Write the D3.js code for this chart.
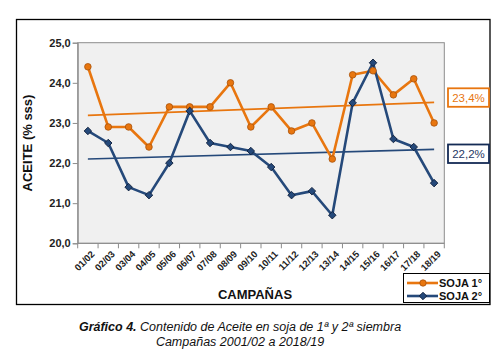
<!DOCTYPE html>
<html><head><meta charset="utf-8">
<script src="https://cdn.jsdelivr.net/npm/d3@7"></script>
<style>body{margin:0;background:#fff}svg{display:block;font-family:"Liberation Sans",Arial,sans-serif}</style>
</head><body><svg id="c" width="500" height="359"></svg>
<script>
const campaigns = ["01/02","02/03","03/04","04/05","05/06","06/07","07/08","08/09","09/10","10/11","11/12","12/13","13/14","14/15","15/16","16/17","17/18","18/19"];
const soja1 = [24.4,22.9,22.9,22.4,23.4,23.4,23.4,24.0,22.9,23.4,22.8,23.0,22.1,24.2,24.3,23.7,24.1,23.0];
const soja2 = [22.8,22.5,21.4,21.2,22.0,23.3,22.5,22.4,22.3,21.9,21.2,21.3,20.7,23.5,24.5,22.6,22.4,21.5];
const yTicks = [20,21,22,23,24,25];
const seriesNames = ["SOJA 1°","SOJA 2°"];
const avgLabels = ["23,4%","22,2%"];
const colors = ["#E8760F","#25497A"];
const strokes = ["#A8520A","#0E1E3A"];

const svg = d3.select("#c");
const L=77.7, R=444.3, T=42.7, B=243.3;
const x = d3.scaleBand().domain(campaigns).range([L,R]);
const y = d3.scaleLinear().domain([20,25]).range([B,T]);
const cx = d => x(d)+x.bandwidth()/2;

// outer frame
svg.append("rect").attr("x",16.5).attr("y",19.5).attr("width",473.5).attr("height",285)
  .attr("fill","none").attr("stroke","#000").attr("stroke-width",1.3);

// plot area
svg.append("rect").attr("x",L).attr("y",T).attr("width",R-L).attr("height",B-T)
  .attr("fill","#F0F0F0").attr("stroke","#8c8c8c").attr("stroke-width",1);

// y axis
const ya = svg.append("g").attr("transform",`translate(${L},0)`)
  .call(d3.axisLeft(y).tickValues(yTicks).tickSize(5).tickFormat(d=>d3.format(".1f")(d).replace(".",",")));
ya.select(".domain").attr("stroke","#8c8c8c");
ya.selectAll(".tick line").attr("stroke","#8c8c8c");
ya.selectAll(".tick text").attr("font-size",11).attr("font-weight","bold").attr("fill","#222").attr("x",-7)
  .attr("font-family","Liberation Sans, Arial, sans-serif");

// x axis
const boundaries = campaigns.map(c=>x(c)).concat([R]);
svg.append("g").selectAll("line").data(boundaries).join("line")
  .attr("x1",d=>d).attr("x2",d=>d).attr("y1",B).attr("y2",B+5).attr("stroke","#8c8c8c");
svg.append("line").attr("x1",L).attr("x2",R).attr("y1",B).attr("y2",B).attr("stroke","#8c8c8c");
svg.append("g").selectAll("text").data(campaigns).join("text")
  .attr("transform",d=>`translate(${cx(d)+5},${B+9}) rotate(-45)`)
  .attr("text-anchor","end").attr("font-size",9.5).attr("font-weight","bold").attr("fill","#222")
  .attr("dy","0.35em").text(d=>d);

// axis titles
svg.append("text").attr("transform","translate(32,143) rotate(-90)").attr("text-anchor","middle")
  .attr("font-size",13).attr("font-weight","bold").attr("fill","#111").text("ACEITE (% sss)");
svg.append("text").attr("x",255).attr("y",299).attr("text-anchor","middle")
  .attr("font-size",13).attr("font-weight","bold").attr("fill","#111").text("CAMPAÑAS");

// trend lines (least squares)
function fit(vals){
  const n=vals.length, xs=d3.range(n);
  const mx=d3.mean(xs), my=d3.mean(vals);
  const b=d3.sum(xs,(i)=>(i-mx)*(vals[i]-my))/d3.sum(xs,i=>(i-mx)*(i-mx));
  return [my-b*mx, my-b*mx+b*(n-1)];
}
[soja1,soja2].forEach((s,k)=>{
  const [a0,a1]=fit(s);
  svg.append("line").attr("x1",cx(campaigns[0])).attr("x2",cx(campaigns[campaigns.length-1]))
    .attr("y1",y(a0)).attr("y2",y(a1)).attr("stroke",colors[k]).attr("stroke-width",1.6);
});

// series lines
const line = d3.line().x((d,i)=>cx(campaigns[i])).y(d=>y(d));
[soja1,soja2].forEach((s,k)=>{
  svg.append("path").datum(s).attr("d",line).attr("fill","none")
    .attr("stroke",colors[k]).attr("stroke-width",2.6).attr("stroke-linejoin","round");
});
// markers
svg.append("g").selectAll("circle").data(soja1).join("circle")
  .attr("cx",(d,i)=>cx(campaigns[i])).attr("cy",d=>y(d)).attr("r",3.3)
  .attr("fill",colors[0]).attr("stroke",strokes[0]).attr("stroke-width",0.8);
const diamond = d3.symbol().type(d3.symbolDiamond2).size(36);
svg.append("g").selectAll("path").data(soja2).join("path")
  .attr("transform",(d,i)=>`translate(${cx(campaigns[i])},${y(d)})`).attr("d",diamond)
  .attr("fill",colors[1]).attr("stroke",strokes[1]).attr("stroke-width",0.9);

// average label boxes
const boxY=[88.3,144.5];
avgLabels.forEach((t,k)=>{
  svg.append("rect").attr("x",448).attr("y",boxY[k]).attr("width",41).attr("height",18.5)
    .attr("fill","#fff").attr("stroke",k===0?colors[0]:"#142B55").attr("stroke-width",1.8);
  svg.append("text").attr("x",468.5).attr("y",boxY[k]+13.5).attr("text-anchor","middle")
    .attr("font-size",11.5).attr("fill",k===0?colors[0]:"#1F3864").text(t);
});

// legend
svg.append("rect").attr("x",403.5).attr("y",273.5).attr("width",86).attr("height",29)
  .attr("fill","#fff").attr("stroke","#000").attr("stroke-width",1);
seriesNames.forEach((n,k)=>{
  const ly=283+k*13;
  svg.append("line").attr("x1",407).attr("x2",438).attr("y1",ly).attr("y2",ly)
    .attr("stroke",colors[k]).attr("stroke-width",2.6);
  if(k===0) svg.append("circle").attr("cx",423).attr("cy",ly).attr("r",3.2).attr("fill",colors[0]).attr("stroke",strokes[0]).attr("stroke-width",0.8);
  else svg.append("path").attr("transform",`translate(423,${ly})`).attr("d",diamond).attr("fill",colors[1]).attr("stroke",strokes[1]).attr("stroke-width",0.9);
  svg.append("text").attr("x",439).attr("y",ly+4).attr("font-size",11).attr("font-weight","bold").attr("fill","#111").text(n);
});

// caption
const cap = svg.append("text").attr("x",240).attr("y",331).attr("text-anchor","middle")
  .attr("font-size",12.5).attr("font-style","italic").attr("fill","#111");
cap.append("tspan").attr("font-weight","bold").text("Gráfico 4.");
cap.append("tspan").text(" Contenido de Aceite en soja de 1ª y 2ª siembra");
svg.append("text").attr("x",240).attr("y",345.5).attr("text-anchor","middle")
  .attr("font-size",12.5).attr("font-style","italic").attr("fill","#111").text("Campañas 2001/02 a 2018/19");
</script></body></html>
